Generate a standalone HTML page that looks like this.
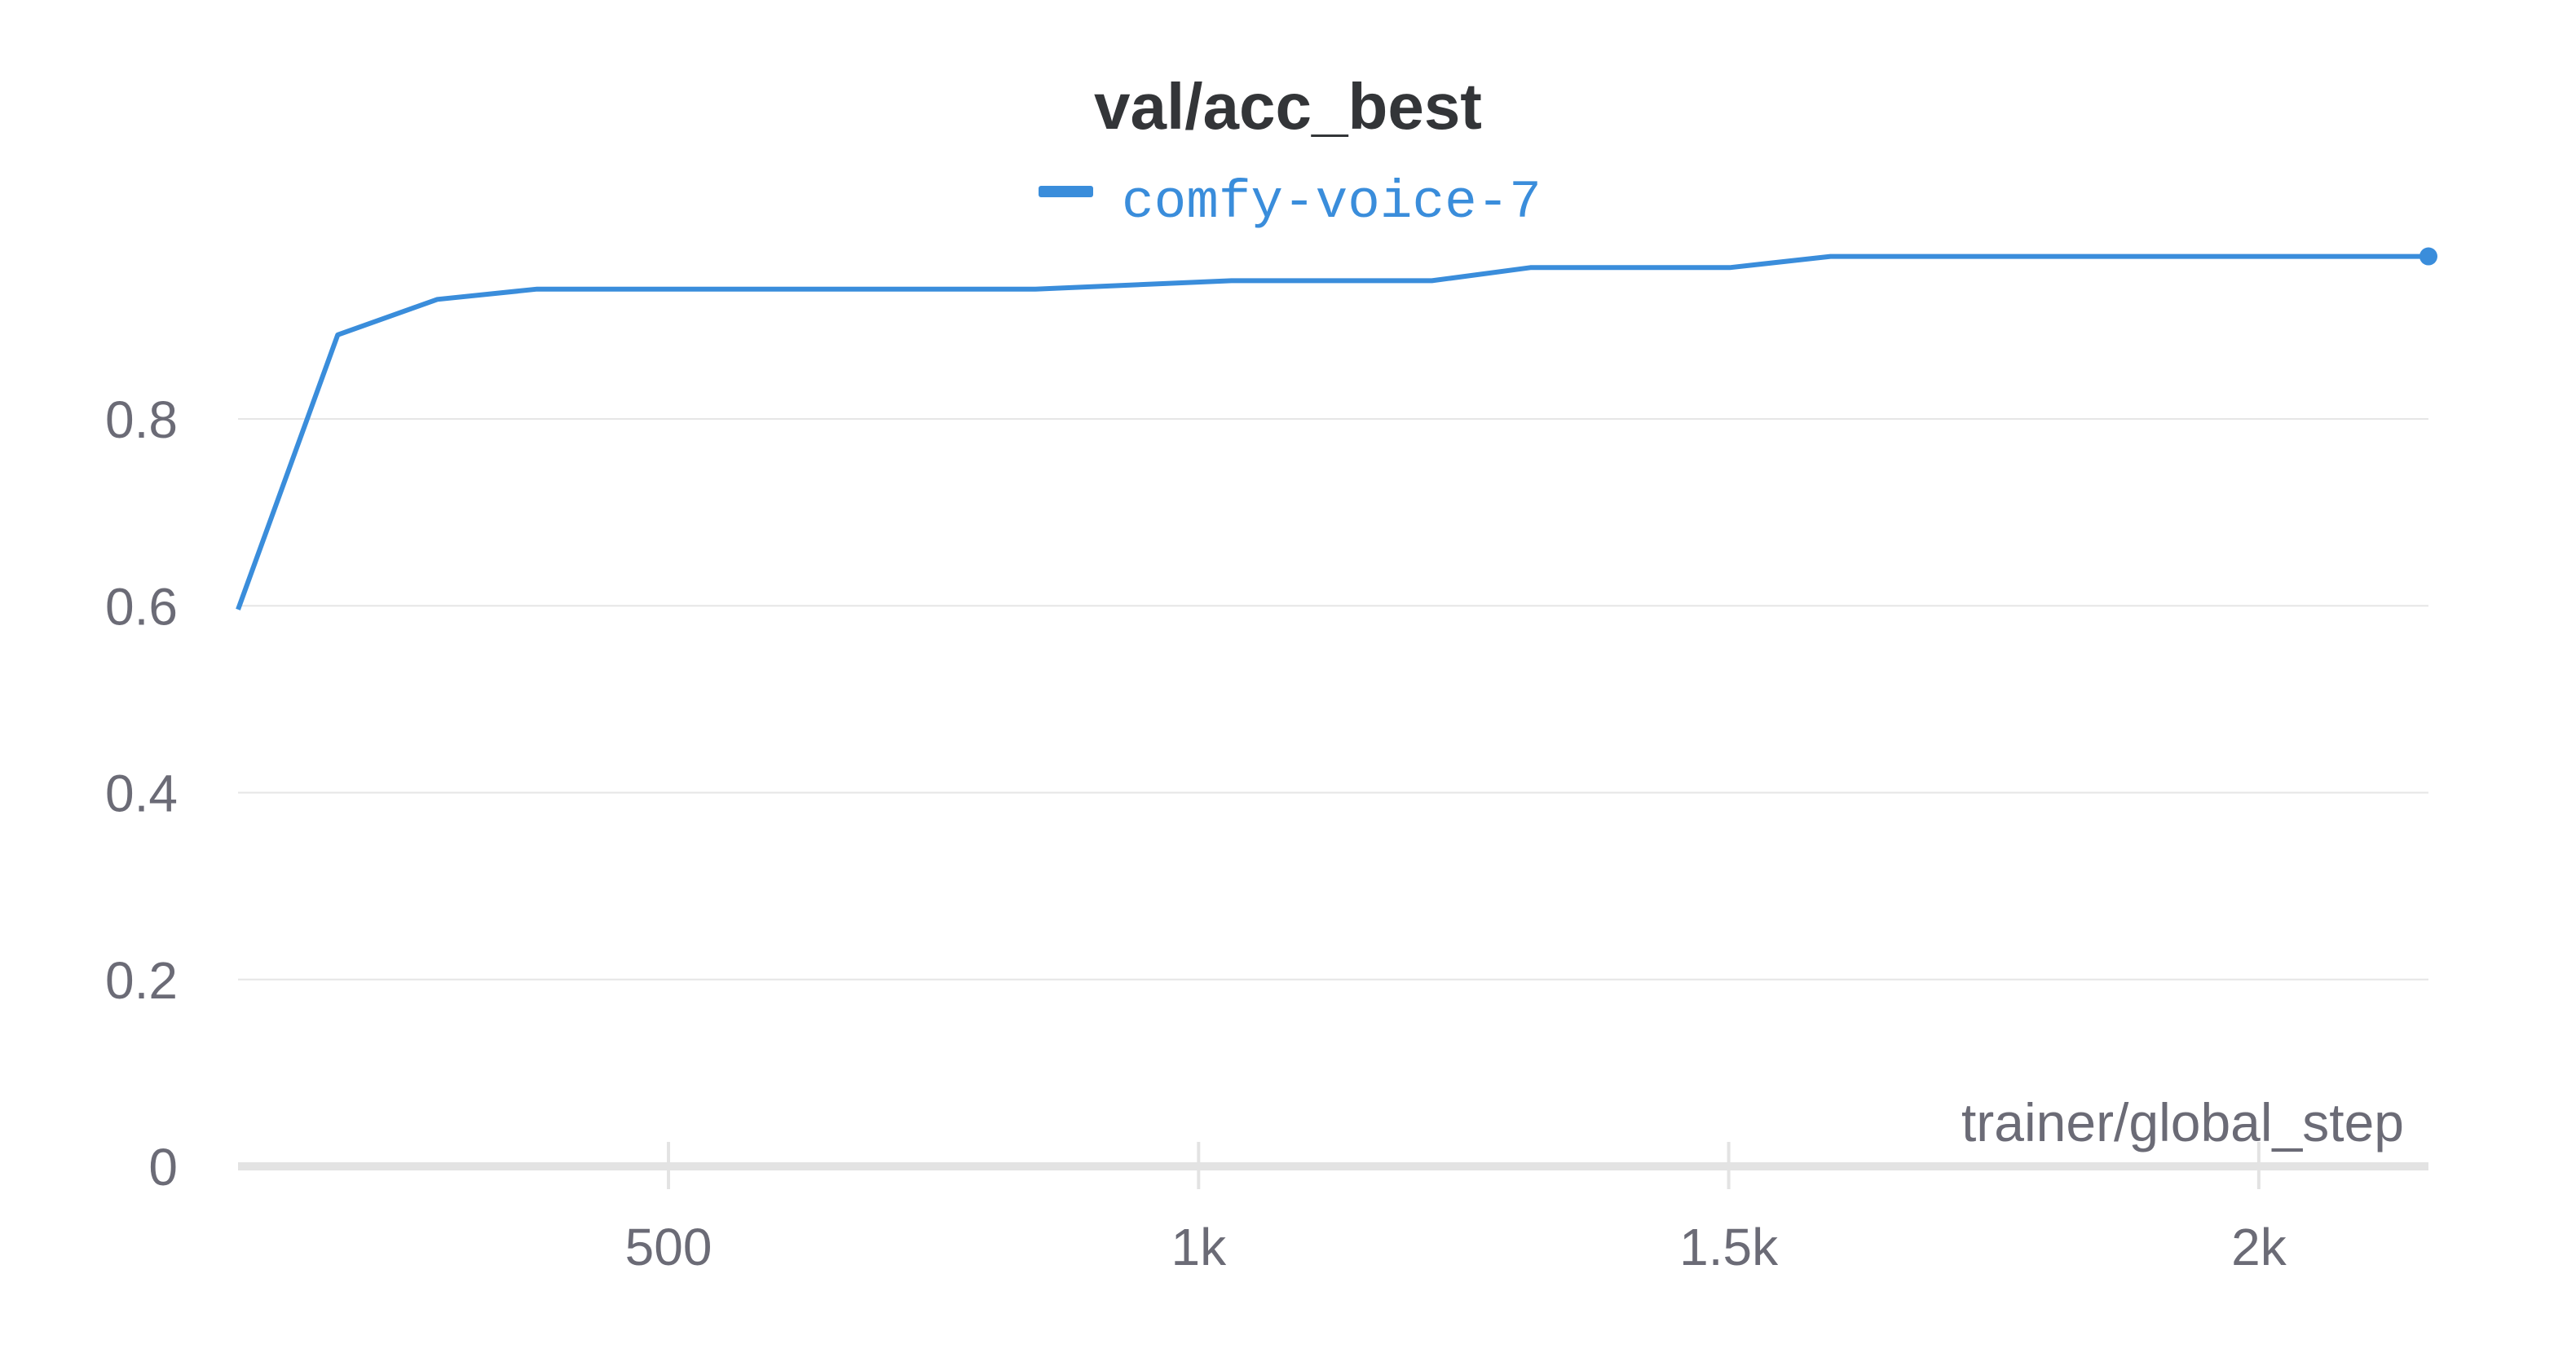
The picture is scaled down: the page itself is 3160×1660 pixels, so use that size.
<!DOCTYPE html>
<html><head><meta charset="utf-8"><style>
html,body{margin:0;padding:0;background:#fff;}
svg{display:block;}
</style></head><body>
<svg id="chart" width="3160" height="1660" viewBox="0 0 3160 1660" xmlns="http://www.w3.org/2000/svg" font-family="'Liberation Sans', sans-serif">
<text x="1580" y="158" text-anchor="middle" font-size="80" font-weight="bold" fill="#333538">val/acc_best</text>
<g>
<rect x="1274" y="228" width="67" height="14" rx="3" fill="#3a8ddb"/>
<text x="1376" y="266" font-size="66" fill="#3a8ddb" font-family="'Liberation Mono', monospace">comfy-voice-7</text>
</g>
<g id="grid"></g>
<g id="axes"></g>
<g id="series"></g>
<text x="2949" y="1400" text-anchor="end" font-size="66" fill="#6b6b76">trainer/global_step</text>
</svg>
<script>
const steps = [94, 188, 282, 376, 846, 1031, 1220, 1313, 1501, 1596, 2160];
const accBest = [0.596, 0.890, 0.928, 0.939, 0.939, 0.948, 0.948, 0.962, 0.962, 0.974, 0.974];
const yTicks = [0, 0.2, 0.4, 0.6, 0.8];
const yTickLabels = ['0', '0.2', '0.4', '0.6', '0.8'];
const xTicks = [500, 1000, 1500, 2000];
const xTickLabels = ['500', '1k', '1.5k', '2k'];

const NS = 'http://www.w3.org/2000/svg';
const L = 292, R = 2979, Y0 = 1431, Y08 = 514;
const xMin = 94, xMax = 2160;
function xs(v){ return L + (v - xMin) / (xMax - xMin) * (R - L); }
function ys(v){ return Y0 - v / 0.8 * (Y0 - Y08); }
function mk(tag, attrs, parent){ const e = document.createElementNS(NS, tag); for (const k in attrs) e.setAttribute(k, attrs[k]); parent.appendChild(e); return e; }

const grid = document.getElementById('grid');
const axes = document.getElementById('axes');
const series = document.getElementById('series');

yTicks.forEach((t, i) => {
  if (t !== 0) {
    const g = mk('line', {x1: L, x2: R, y1: ys(t), y2: ys(t), stroke: '#e6e6e6', 'stroke-width': 2}, grid);
    
    
  }
  const tx = mk('text', {x: 218, y: ys(t) + 23, 'text-anchor': 'end', 'font-size': 64, fill: '#6b6b76'}, axes);
  tx.textContent = yTickLabels[i];
  
  
});

xTicks.forEach((t, i) => {
  const tk = mk('line', {x1: xs(t), x2: xs(t), y1: 1401, y2: 1459, stroke: '#e3e3e3', 'stroke-width': 4}, axes);
  
  
  const tx = mk('text', {x: xs(t), y: 1552, 'text-anchor': 'middle', 'font-size': 64, fill: '#6b6b76'}, axes);
  tx.textContent = xTickLabels[i];
  
  
});

const ax = mk('line', {x1: L, x2: R, y1: Y0, y2: Y0, stroke: '#e3e3e3', 'stroke-width': 10}, axes);



const pts = steps.map((s, i) => xs(s).toFixed(1) + ',' + ys(accBest[i]).toFixed(1)).join(' ');
const pl = mk('polyline', {points: pts, fill: 'none', stroke: '#3a8ddb', 'stroke-width': 6, 'stroke-linejoin': 'round'}, series);


const last = steps.length - 1;
const dot = mk('circle', {cx: xs(steps[last]), cy: ys(accBest[last]), r: 11, fill: '#3a8ddb'}, series);


</script>
</body></html>
